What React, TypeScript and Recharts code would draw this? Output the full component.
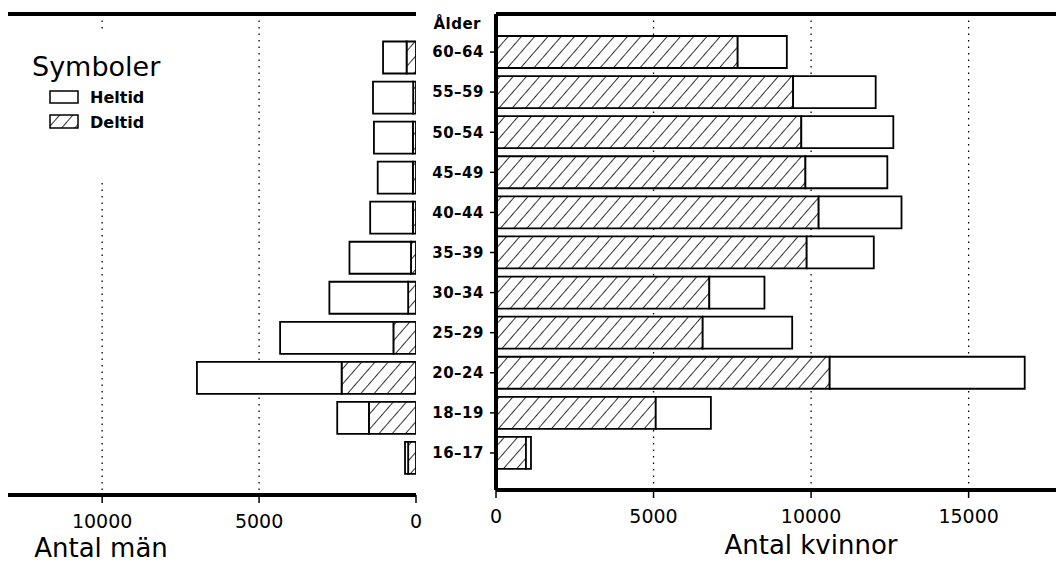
import React from 'react';
import { BarChart, Bar, XAxis, YAxis, CartesianGrid } from 'recharts';

const FONT = '"DejaVu Sans", sans-serif';

const ages = ['60–64', '55–59', '50–54', '45–49', '40–44', '35–39', '30–34', '25–29', '20–24', '18–19', '16–17'];
const menDeltid = [300, 90, 100, 100, 100, 160, 250, 720, 2370, 1500, 250];
const menHeltid = [750, 1280, 1240, 1120, 1360, 1960, 2510, 3610, 4610, 1010, 100];
const womenDeltid = [7670, 9430, 9690, 9820, 10240, 9860, 6770, 6560, 10590, 5070, 950];
const womenHeltid = [1560, 2620, 2920, 2600, 2630, 2130, 1750, 2840, 6190, 1750, 160];
const menTicks = [0, 5000, 10000];
const womenTicks = [0, 5000, 10000, 15000];
const menMax = 13000;
const womenMax = 17900;

const menData = ages.map((age, i) => ({ age, deltid: menDeltid[i], heltid: menHeltid[i] }));
const womenData = ages.map((age, i) => ({ age, deltid: womenDeltid[i], heltid: womenHeltid[i] }));

const Hatch = ({ id }: { id: string }) => (
  <pattern id={id} patternUnits="userSpaceOnUse" width={10} height={10} patternTransform="rotate(41)">
    <rect x={0} y={0} width={10} height={10} fill="#fff" />
    <line x1={0} y1={0} x2={0} y2={10} stroke="#000" strokeWidth={1.6} />
  </pattern>
);

const thick = { stroke: '#000', strokeWidth: 4 };
const tickLn = { stroke: '#000', strokeWidth: 1.5 };
const numTick = { fill: '#000', fontSize: 19, fontFamily: FONT };

export default function App() {
  return (
    <div style={{ position: 'absolute', left: 0, top: 0, width: 1056, height: 564, overflow: 'hidden', background: '#fff' }}>
      <div style={{ position: 'absolute', left: 0, top: 0 }}>
        <BarChart width={424} height={564} layout="vertical" data={menData}
          margin={{ top: 13, right: 8, bottom: 0, left: 8 }} barSize={32}>
          <defs><Hatch id="hatchMen" /></defs>
          <CartesianGrid xAxisId="main" horizontal={false} verticalValues={menTicks.slice(1)}
            stroke="#000" strokeDasharray="1.5 5" strokeWidth={1.3} />
          <XAxis xAxisId="main" type="number" domain={[0, menMax]} ticks={menTicks} reversed allowDataOverflow
            height={69} axisLine={thick} tickLine={tickLn} tickSize={8} tickMargin={12} tick={numTick} />
          <XAxis xAxisId="top" orientation="top" type="number" domain={[0, menMax]} reversed allowDataOverflow
            height={1} tick={false} tickLine={false} axisLine={thick} />
          <YAxis type="category" dataKey="age" orientation="right" width={0} tick={false} tickLine={false}
            axisLine={thick} padding={{ top: 23.5, bottom: 17 }} />
          <Bar xAxisId="main" dataKey="deltid" stackId="m" fill="url(#hatchMen)" stroke="#000" strokeWidth={1.8} isAnimationActive={false} />
          <Bar xAxisId="main" dataKey="heltid" stackId="m" fill="#fff" stroke="#000" strokeWidth={1.8} isAnimationActive={false} />
        </BarChart>
      </div>
      <div style={{ position: 'absolute', left: 420, top: 0 }}>
        <BarChart width={640} height={564} layout="vertical" data={womenData}
          margin={{ top: 13, right: 0, bottom: 0, left: 0 }} barSize={32}>
          <defs><Hatch id="hatchWomen" /></defs>
          <CartesianGrid xAxisId="main" horizontal={false} verticalValues={womenTicks.slice(1)}
            stroke="#000" strokeDasharray="1.5 5" strokeWidth={1.3} />
          <XAxis xAxisId="main" type="number" domain={[0, womenMax]} ticks={womenTicks} allowDataOverflow
            height={74} axisLine={thick} tickLine={tickLn} tickSize={8} tickMargin={12} tick={numTick} />
          <XAxis xAxisId="top" orientation="top" type="number" domain={[0, womenMax]} allowDataOverflow
            height={1} tick={false} tickLine={false} axisLine={thick} />
          <YAxis type="category" dataKey="age" width={76} tickSize={6} tickMargin={6}
            tick={{ fill: '#000', fontSize: 15, fontWeight: 'bold', fontFamily: FONT, letterSpacing: 0.5 }}
            tickLine={tickLn} axisLine={thick} padding={{ top: 18, bottom: 17 }} />
          <Bar xAxisId="main" dataKey="deltid" stackId="w" fill="url(#hatchWomen)" stroke="#000" strokeWidth={1.8} isAnimationActive={false} />
          <Bar xAxisId="main" dataKey="heltid" stackId="w" fill="#fff" stroke="#000" strokeWidth={1.8} isAnimationActive={false} />
        </BarChart>
      </div>
      <svg width={1056} height={564} style={{ position: 'absolute', left: 0, top: 0, pointerEvents: 'none' }} fontFamily={FONT}>
        <defs><Hatch id="hatchLegend" /></defs>
        <text x={481} y={29} textAnchor="end" fontSize={15} fontWeight="bold" letterSpacing={0.5} fill="#000">Ålder</text>
        <text x={101} y={557} textAnchor="middle" fontSize={26} fill="#000">Antal män</text>
        <text x={811} y={554} textAnchor="middle" fontSize={26} fill="#000">Antal kvinnor</text>
        <rect x={14} y={33} width={170} height={148} fill="#fff" />
        <text x={32} y={76} fontSize={27} fill="#000">Symboler</text>
        <rect x={50} y={91} width={28} height={12} fill="#fff" stroke="#000" strokeWidth={1.5} />
        <text x={90} y={103} fontSize={16} fontWeight="bold" fill="#000">Heltid</text>
        <rect x={50} y={115} width={28} height={13} fill="url(#hatchLegend)" stroke="#000" strokeWidth={1.5} />
        <text x={90} y={128} fontSize={16} fontWeight="bold" fill="#000">Deltid</text>
      </svg>
    </div>
  );
}
